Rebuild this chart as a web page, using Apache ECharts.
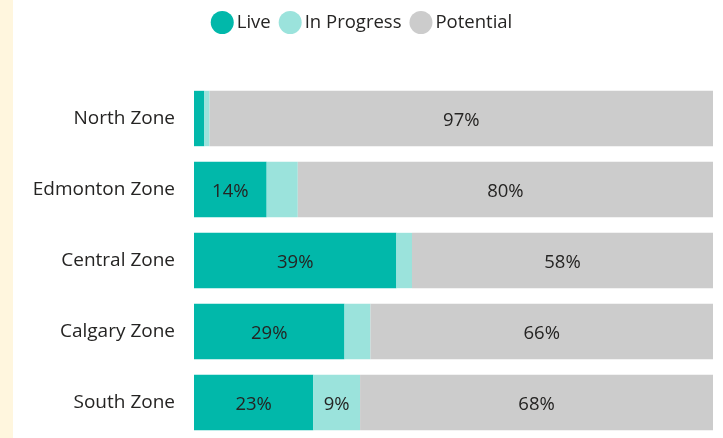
<!DOCTYPE html>
<html>
<head>
<meta charset="utf-8">
<script src="https://cdn.jsdelivr.net/npm/echarts@6/dist/echarts.min.js"></script>
<style>
  html, body { margin: 0; padding: 0; background: #fff; }
  #strip { position: absolute; left: 0; top: 0; width: 13px; height: 438px; background: #fff6de; }
  #chart { width: 723px; height: 438px; }
</style>
</head>
<body>
<div id="strip"></div>
<div id="chart"></div>
<script>
// zones top to bottom
var zones = ['North Zone', 'Edmonton Zone', 'Central Zone', 'Calgary Zone', 'South Zone'];
var live = [2, 14, 39, 29, 23];
var inProgress = [1, 6, 3, 5, 9];
var potential = [97, 80, 58, 66, 68];

var fontFam = '"Open Sans", "Noto Sans", sans-serif';

function pctLabel(p) {
	// small segments get no label, like the original
	return p.value >= 8 ? p.value + '%' : '';
}

function makeSeries(name, data, color) {
	return {
		name: name,
		type: 'bar',
		stack: 'total',
		data: data,
		barCategoryGap: '22%',
		itemStyle: { color: color },
		label: {
			show: true,
			position: 'inside',
			offset: [0, 2],
			formatter: pctLabel,
			color: '#252423',
			fontSize: 18.5,
			fontFamily: fontFam
		},
		emphasis: { disabled: true }
	};
}

var myChart = echarts.init(document.getElementById('chart'));
myChart.setOption({
	animation: false,
	legend: {
		top: 6,
		left: 'center',
		icon: 'circle',
		itemWidth: 23,
		itemHeight: 23,
		itemGap: 8,
		textStyle: { fontSize: 18.5, color: '#252423', fontFamily: fontFam, padding: [0, 0, 0, -2] },
		data: ['Live', 'In Progress', 'Potential']
	},
	grid: { left: 194, right: 10, top: 83, height: 360, containLabel: false },
	xAxis: { type: 'value', min: 0, max: 100, show: false },
	yAxis: {
		type: 'category',
		inverse: true,
		data: zones,
		axisLine: { show: false },
		axisTick: { show: false },
		axisLabel: { margin: 19, fontSize: 19, color: '#252423', fontFamily: fontFam, padding: [4, 0, 0, 0] }
	},
	series: [
		makeSeries('Live', live, '#01b8aa'),
		makeSeries('In Progress', inProgress, '#9be3dc'),
		makeSeries('Potential', potential, '#cccccc')
	]
});
</script>
</body>
</html>
